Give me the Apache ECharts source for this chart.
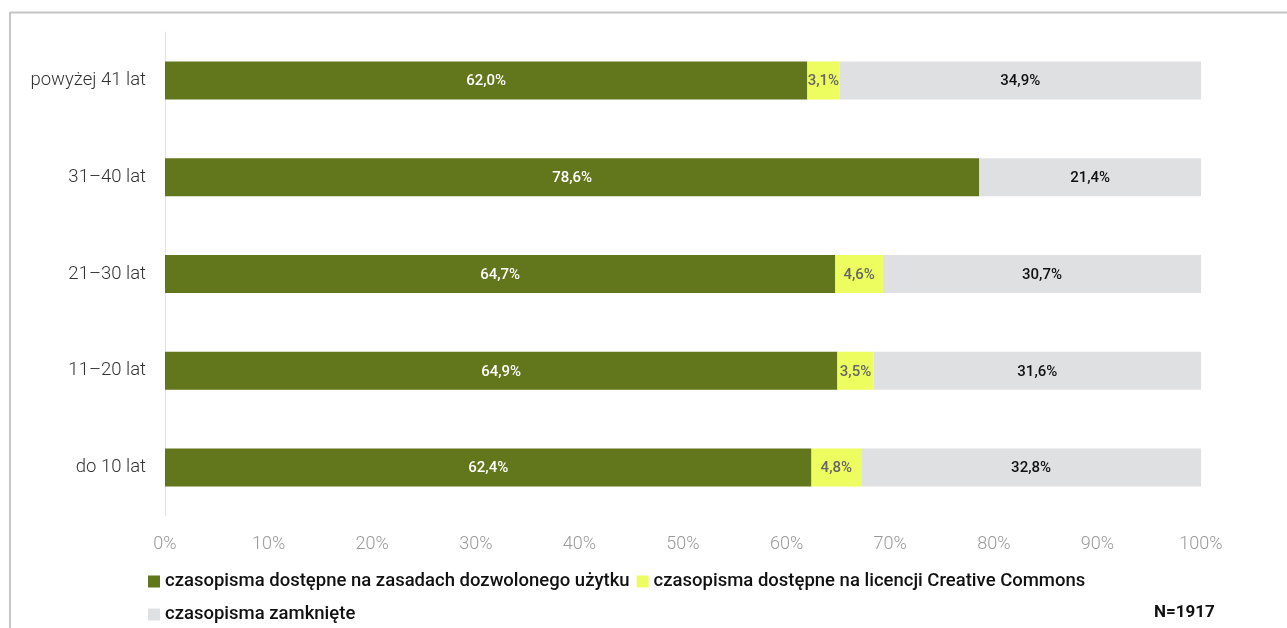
<!DOCTYPE html>
<html>
<head>
<meta charset="utf-8">
<script src="https://cdn.jsdelivr.net/npm/echarts@6/dist/echarts.min.js"></script>
<style>html,body{margin:0;padding:0;background:#fff}#c{width:1287px;height:628px}</style>
</head>
<body>
<div id="c"></div>
<script>
const categories = ['powyżej 41 lat', '31–40 lat', '21–30 lat', '11–20 lat', 'do 10 lat'];
const seriesNames = ['czasopisma dostępne na zasadach dozwolonego użytku', 'czasopisma dostępne na licencji Creative Commons', 'czasopisma zamknięte'];
const fairUse = [62.0, 78.6, 64.7, 64.9, 62.4];
const creativeCommons = [3.1, 0, 4.6, 3.5, 4.8];
const closed = [34.9, 21.4, 30.7, 31.6, 32.8];
const xTicks = [0, 10, 20, 30, 40, 50, 60, 70, 80, 90, 100];
const note = 'N=1917';

const colors = ['#62761c', '#edfd5f', '#dfe0e2'];
const labelColors = ['#ffffff', '#666666', '#111111'];
const values = [fairUse, creativeCommons, closed];

const chart = echarts.init(document.getElementById('c'));
const fmt = v => v.toFixed(1).replace('.', ',') + '%';
chart.setOption({
  animation: false,
  grid: { left: 165, right: 86, top: 32, bottom: 112, containLabel: false },
  xAxis: {
    type: 'value', min: xTicks[0], max: xTicks[xTicks.length - 1], interval: 10,
    axisLine: { show: false }, axisTick: { show: false }, splitLine: { show: false },
    axisLabel: { formatter: '{value}%', color: '#9a9a9a', fontFamily: 'Roboto', fontWeight: 300, fontSize: 18, margin: 19 }
  },
  yAxis: {
    type: 'category', data: categories, inverse: true,
    axisLine: { show: true, lineStyle: { color: '#e2e2e2', width: 1 } },
    axisTick: { show: false },
    axisLabel: { color: '#333', fontFamily: 'Roboto', fontWeight: 300, fontSize: 18.5, margin: 19 }
  },
  legend: [
    { data: [seriesNames[0], seriesNames[1]], left: 143, top: 567, itemWidth: 12, itemHeight: 12, itemGap: 7, icon: 'rect',
      textStyle: { color: '#111', fontFamily: 'Roboto', fontWeight: 500, fontSize: 18.5 } },
    { data: [seriesNames[2]], left: 143, top: 600, itemWidth: 12, itemHeight: 12, icon: 'rect',
      textStyle: { color: '#111', fontFamily: 'Roboto', fontWeight: 500, fontSize: 18.5 } }
  ],
  series: seriesNames.map((name, i) => ({
    name, type: 'bar', stack: 'total', barWidth: 38,
    data: values[i],
    itemStyle: { color: colors[i] },
    label: {
      show: true, position: 'inside', offset: [0, 1], color: labelColors[i], fontFamily: 'Roboto', fontWeight: 500, fontSize: 15,
      formatter: p => p.value > 0 ? fmt(p.value) : ''
    }
  })),
  graphic: [
    { type: 'line', shape: { x1: 10, y1: 12.5, x2: 1287, y2: 12.5 }, style: { stroke: '#c6c6c6', lineWidth: 2 } },
    { type: 'line', shape: { x1: 10, y1: 12, x2: 10, y2: 628 }, style: { stroke: '#c6c6c6', lineWidth: 2 } },
    { type: 'text', left: 1154, top: 604, style: { text: note, fill: '#111', font: 'bold 17px Roboto' } }
  ]
});
</script>
</body>
</html>
